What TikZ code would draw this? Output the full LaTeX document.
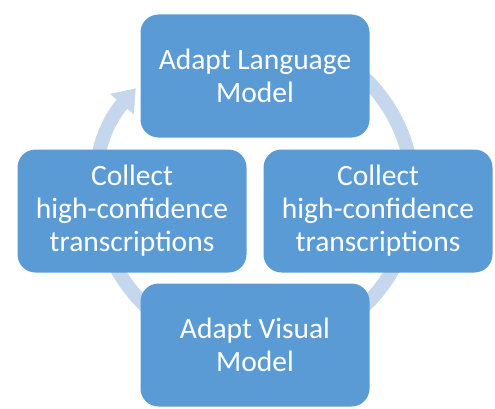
\documentclass[tikz,border=0pt]{standalone}
\usepackage{fontspec}
\setmainfont{Carlito}
\usetikzlibrary{arrows.meta}
\definecolor{boxblue}{HTML}{5B9BD5}
\definecolor{ringblue}{HTML}{C5D7EC}
\begin{document}
\begin{tikzpicture}[x=1pt,y=1pt,
  stagebox/.style={draw=none, fill=boxblue, rounded corners=18pt,
    minimum width=229pt, minimum height=123pt, inner sep=0pt,
    text=white, align=center,
    font=\fontsize{29.5}{33}\selectfont},
  ring/.style={draw=ringblue, line width=14pt,
    -{Triangle[width=30pt,length=21pt]}}]
  \useasboundingbox (0,0) rectangle (495,408);
  % circular arrow running behind the four stages
  \coordinate (hub) at (255,216);
  \draw[ring] (hub) ++(130:158) arc[start angle=130, end angle=-221, radius=158];
  % stages of the cycle
  \node[stagebox] (lang)  at (255,332) {Adapt Language\\Model};
  \node[stagebox] (right) at (378,197) {Collect\\high-confidence\\transcriptions};
  \node[stagebox] (vis)   at (255,63)  {Adapt Visual\\Model};
  \node[stagebox] (left)  at (132,197) {Collect\\high-confidence\\transcriptions};
\end{tikzpicture}
\end{document}
